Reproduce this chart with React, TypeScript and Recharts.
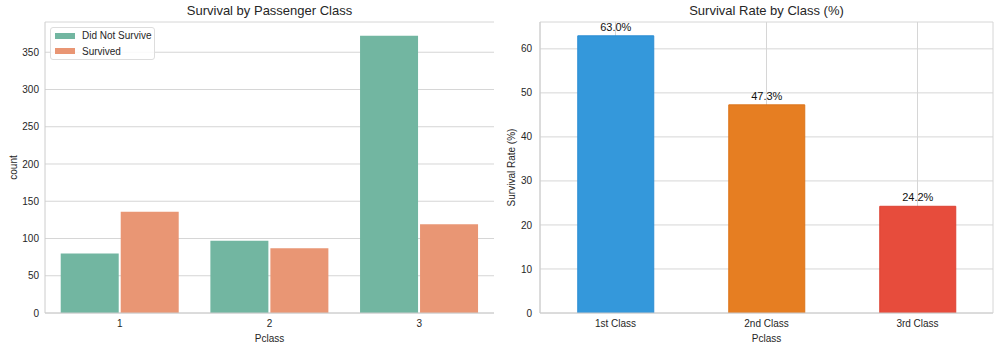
import React from 'react';
import { BarChart, Bar, XAxis, YAxis, CartesianGrid, Legend, LabelList, Cell, Label } from 'recharts';

const pclassCategories = ['1', '2', '3'];
const diedCounts = [80, 97, 372];
const survivedCounts = [136, 87, 119];
const countTicks = [0, 50, 100, 150, 200, 250, 300, 350];

const rateCategories = ['1st Class', '2nd Class', '3rd Class'];
const survivalRates = [62.96, 47.28, 24.24];
const rateTicks = [0, 10, 20, 30, 40, 50, 60];
const rateColors = ['#3498db', '#e67e22', '#e74c3c'];
const rateEdgeColors = ['#2b8cd3', '#dc741a', '#dc4233'];

const seriesNames = ['Did Not Survive', 'Survived'];
const seriesColors = ['#72b6a1', '#e99674'];

const countData = pclassCategories.map((c, i) => ({ Pclass: c, died: diedCounts[i], survived: survivedCounts[i] }));
const rateData = rateCategories.map((c, i) => ({ cls: c, rate: survivalRates[i] }));

const FONT = '"Liberation Sans", Arial, Helvetica, sans-serif';
const TXT = '#262626';
const SPINE = '#cccccc';
const GRID = '#d6d6d6';

const yLabel = (text: string, dx: number) => (props: any) => {
  const vb = props.viewBox || {};
  const x = (vb.x || 0) + dx;
  const y = (vb.y || 0) + (vb.height || 0) / 2;
  return (
    <text x={x} y={y} transform={`rotate(-90, ${x}, ${y})`} textAnchor="middle" dominantBaseline="central" fontSize={10} fill={TXT} fontFamily={FONT}>
      {text}
    </text>
  );
};

const LegendBox = () => (
  <div style={{ border: '1px solid #dddddd', borderRadius: 3, background: 'rgba(255,255,255,0.85)', padding: '0px 3px 0px 4px', fontFamily: FONT, fontSize: 10, color: TXT, whiteSpace: 'nowrap', display: 'inline-block' }}>
    {seriesNames.map((n, i) => (
      <div key={n} style={{ display: 'flex', alignItems: 'center', height: 15.5 }}>
        <span style={{ display: 'inline-block', width: 20, height: 6, background: seriesColors[i], marginRight: 7 }} />
        <span>{n}</span>
      </div>
    ))}
  </div>
);

const titleStyle = (left: number, width: number): React.CSSProperties => ({
  position: 'absolute', left, width, top: 2, lineHeight: '18px', textAlign: 'center', fontFamily: FONT, fontSize: 13, color: TXT,
});

export default function App() {
  return (
    <div style={{ position: 'fixed', left: 0, top: 0, width: 1000, height: 351, background: '#fff', fontFamily: FONT }}>
      <div style={titleStyle(45, 449)}>Survival by Passenger Class</div>
      <div style={titleStyle(540, 453)}>Survival Rate by Class (%)</div>
      <div style={{ position: 'absolute', left: 0, top: 0 }}>
        <BarChart width={500} height={351} data={countData} margin={{ top: 22, right: 6, bottom: 0, left: 10 }} barCategoryGap="10.5%" barGap={2}>
          <CartesianGrid vertical={false} stroke={GRID} />
          <XAxis dataKey="Pclass" height={38} tickLine={false} axisLine={{ stroke: SPINE }} tick={{ fontSize: 10, fill: TXT, fontFamily: FONT }} tickSize={4} tickMargin={3}>
            <Label value="Pclass" position="insideBottom" offset={9} style={{ fontSize: 10, fill: TXT, fontFamily: FONT }} />
          </XAxis>
          <XAxis xAxisId="top" orientation="top" dataKey="Pclass" height={0} tick={false} tickLine={false} axisLine={{ stroke: SPINE }} />
          <YAxis width={35} domain={[0, 390.6]} ticks={countTicks} allowDataOverflow tickLine={false} axisLine={{ stroke: SPINE }} tick={{ fontSize: 10, fill: TXT, fontFamily: FONT }} tickSize={0} tickMargin={6}>
            <Label content={yLabel('count', 3)} />
          </YAxis>
          <YAxis yAxisId="right" orientation="right" width={0} domain={[0, 390.6]} tick={false} tickLine={false} axisLine={{ stroke: SPINE }} />
          <Legend layout="horizontal" verticalAlign="middle" align="center" wrapperStyle={{ left: 50, top: 27, width: 'auto' }} content={() => <LegendBox />} />
          <Bar dataKey="died" name={seriesNames[0]} fill={seriesColors[0]} isAnimationActive={false} />
          <Bar dataKey="survived" name={seriesNames[1]} fill={seriesColors[1]} isAnimationActive={false} />
        </BarChart>
      </div>
      <div style={{ position: 'absolute', left: 500, top: 0 }}>
        <BarChart width={500} height={351} data={rateData} margin={{ top: 22, right: 7, bottom: 0, left: 5 }} barCategoryGap="25%">
          <CartesianGrid stroke={GRID} />
          <XAxis dataKey="cls" height={38} tickLine={false} axisLine={{ stroke: SPINE }} tick={{ fontSize: 10, fill: TXT, fontFamily: FONT }} tickSize={4} tickMargin={3}>
            <Label value="Pclass" position="insideBottom" offset={9} style={{ fontSize: 10, fill: TXT, fontFamily: FONT }} />
          </XAxis>
          <XAxis xAxisId="top" orientation="top" dataKey="cls" height={0} tick={false} tickLine={false} axisLine={{ stroke: SPINE }} />
          <YAxis width={35} domain={[0, 66.1]} ticks={rateTicks} allowDataOverflow tickLine={false} axisLine={{ stroke: SPINE }} tick={{ fontSize: 10, fill: TXT, fontFamily: FONT }} tickSize={0} tickMargin={8}>
            <Label content={yLabel('Survival Rate (%)', 6)} />
          </YAxis>
          <YAxis yAxisId="right" orientation="right" width={0} domain={[0, 66.1]} tick={false} tickLine={false} axisLine={{ stroke: SPINE }} />
          <Bar dataKey="rate" isAnimationActive={false} strokeWidth={1}>
            {rateData.map((d, i) => (
              <Cell key={d.cls} fill={rateColors[i]} stroke={rateEdgeColors[i]} />
            ))}
            <LabelList dataKey="rate" position="top" offset={5} formatter={(v: any) => `${Number(v).toFixed(1)}%`} style={{ fontSize: 11, fill: '#111', fontFamily: FONT }} />
          </Bar>
        </BarChart>
      </div>
    </div>
  );
}
